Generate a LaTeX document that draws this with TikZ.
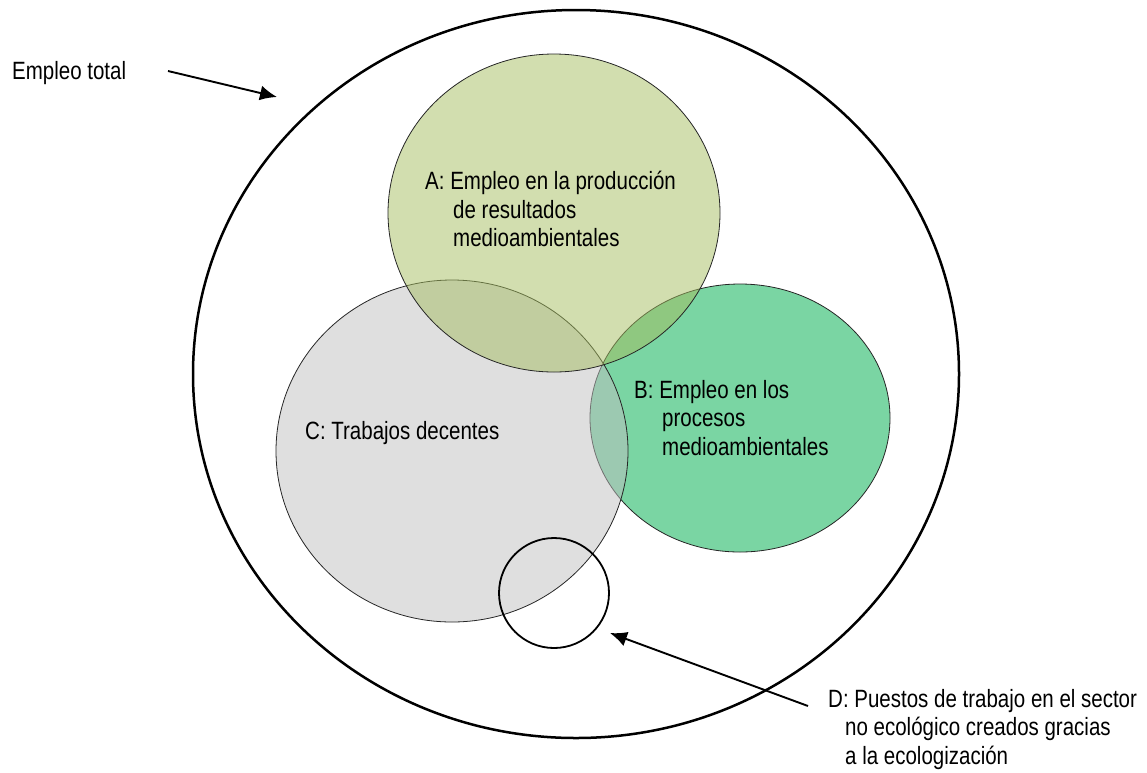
\documentclass[tikz,border=0pt]{standalone}
\usepackage{fontspec}
\setmainfont{Liberation Sans}[FakeStretch=0.82]
\usepackage{tikz}
\usetikzlibrary{shapes.geometric,arrows.meta}

\definecolor{colA}{RGB}{165,189,95}
\definecolor{colB}{RGB}{122,213,163}
\definecolor{colC}{RGB}{191,191,191}

\begin{document}
\begin{tikzpicture}[x=1pt, y=-1pt,
    setnode/.style={ellipse, draw=black!85, line width=0.8pt, inner sep=0pt},
    textnode/.style={anchor=north west, inner sep=0pt, align=left, font=\fontsize{25}{28.5}\selectfont},
    pointer/.style={-{Latex[length=17pt,width=15pt]}, line width=1.9pt}]
    \useasboundingbox (0,0) rectangle (1147,772);

    %Sets
    \node[ellipse, draw, line width=2.5pt, minimum width=766pt, minimum height=728pt] (total) at (576,374) {};
    \node[setnode, fill=colB, minimum width=300pt, minimum height=268pt] (B) at (740,418) {};
    \node[setnode, fill=colC, fill opacity=0.5, minimum width=352pt, minimum height=342pt] (C) at (452,451) {};
    \node[setnode, fill=colA, fill opacity=0.5, minimum width=332pt, minimum height=318pt] (A) at (554,213) {};
    \node[circle, draw, line width=1.8pt, minimum size=110pt, inner sep=0pt] (D) at (554,593) {};

    %Labels
    \node[textnode] (lbltotal) at (12,61) {Empleo total};
    \node[textnode] (lblA) at (425,171) {A: Empleo en la producción\\\hspace*{28pt}de resultados\\\hspace*{28pt}medioambientales};
    \node[textnode] (lblB) at (634,380) {B: Empleo en los\\\hspace*{28pt}procesos\\\hspace*{28pt}medioambientales};
    \node[textnode] (lblC) at (305,421) {C: Trabajos decentes};
    \node[textnode] (lblD) at (828,689) {D: Puestos de trabajo en el sector\\\hspace*{17pt}no ecológico creados gracias\\\hspace*{17pt}a la ecologización};

    %Arrows
    \coordinate (totaltail) at (168,71);
    \coordinate (totaltip) at (277,97);
    \coordinate (Dtail) at (808,706);
    \coordinate (Dtip) at (610,633);
    \draw[pointer] (totaltail) -- (totaltip);
    \draw[pointer] (Dtail) -- (Dtip);
\end{tikzpicture}
\end{document}
